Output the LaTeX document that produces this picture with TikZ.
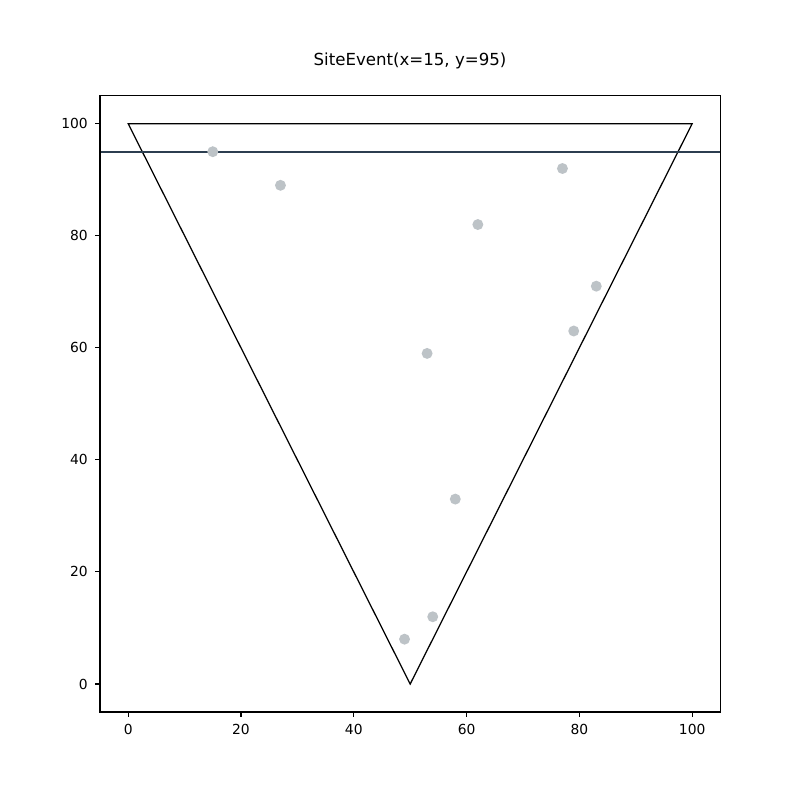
\documentclass[tikz,border=0pt]{standalone}
\usepackage{fontspec}
\setmainfont{DejaVu Sans}
\definecolor{pointgray}{HTML}{BDC3C7}
\definecolor{sweep}{HTML}{2C3E50}
\begin{document}
\begin{tikzpicture}[x=0.01in,y=-0.01in,
  site/.style={circle,fill=pointgray,inner sep=0pt,minimum size=7.9pt},
  ticklbl/.style={font=\fontsize{10}{12}\selectfont,inner sep=0pt},
  axisline/.style={line width=0.8pt}]
\useasboundingbox[fill=white] (0,0) rectangle (800,800);
\node[font=\fontsize{12}{14}\selectfont] (title) at (410,61) {SiteEvent(x=15, y=95)};
\begin{scope}[shift={(128.18,684)},x=0.05636in,y=0.056in]
  % triangle
  \coordinate (A) at (0,100);
  \coordinate (B) at (100,100);
  \coordinate (C) at (50,0);
  \draw[line width=0.9pt,line join=miter] (A) -- (B) -- (C) -- cycle;
  % sweep line
  \coordinate (L0) at (-5,95);
  \coordinate (L1) at (105,95);
  \draw[sweep,line width=1.2pt] (L0) -- (L1);
  % sites
  \foreach \px/\py [count=\i] in {15/95,27/89,77/92,62/82,83/71,79/63,53/59,58/33,54/12,49/8}
    \node[site] (s\i) at (\px,\py) {};
  % axes frame
  \coordinate (F0) at (-5,-5);
  \coordinate (F1) at (105,105);
  \draw[axisline] (F0) rectangle (F1);
  % ticks
  \foreach \t in {0,20,40,60,80,100}{
    \coordinate (xt\t) at (\t,-5);
    \draw[axisline] (xt\t) -- ++(0,-3.5pt) node[ticklbl,anchor=north,yshift=-4.9pt] (xl\t) {\t};
    \coordinate (yt\t) at (-5,\t);
    \draw[axisline] (yt\t) -- ++(-3.5pt,0) node[ticklbl,anchor=east,xshift=-4.9pt] (yl\t) {\t};
  }
\end{scope}
\end{tikzpicture}
\end{document}
